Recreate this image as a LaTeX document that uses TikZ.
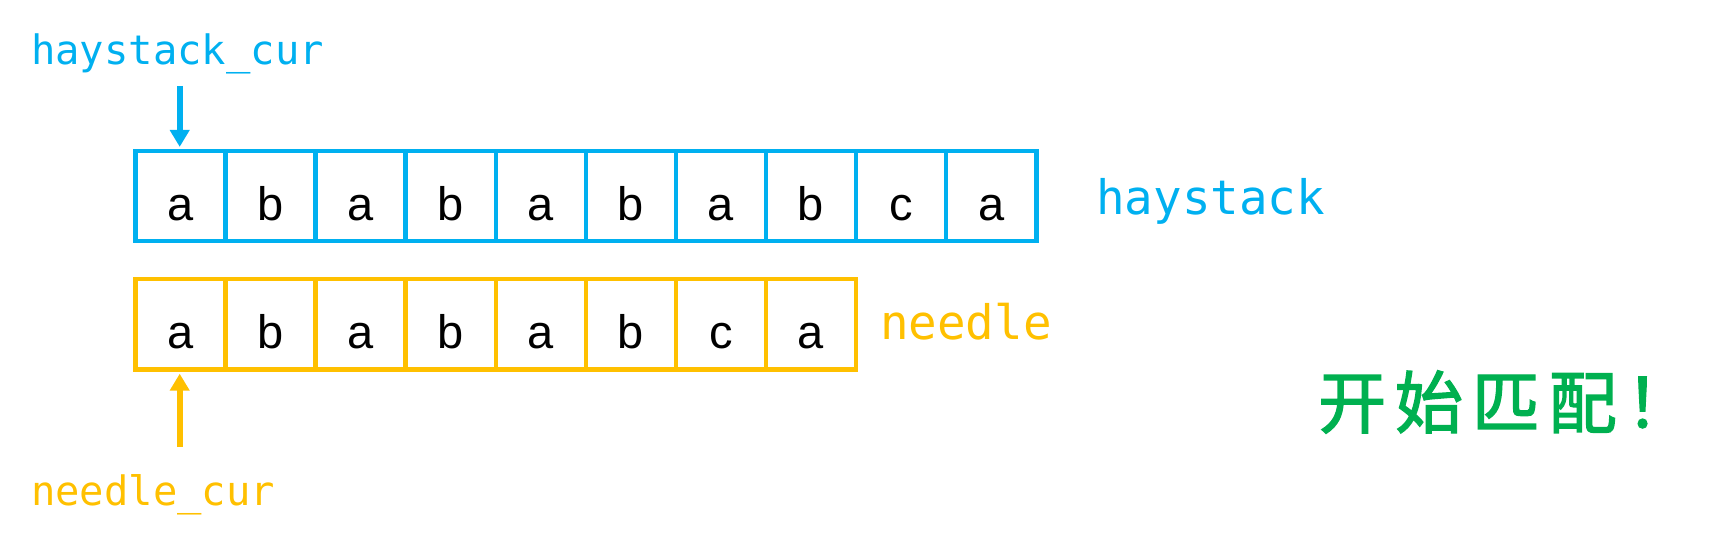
\documentclass[tikz,border=0pt]{standalone}
\usepackage{fontspec}
\setmainfont{Liberation Sans}
\newfontfamily\monof{DejaVu Sans Mono}
\newfontfamily\cjk[LetterSpace=13,FakeBold=2]{Noto Sans CJK SC}
\usetikzlibrary{arrows.meta}
\definecolor{hay}{HTML}{00B0F0}
\definecolor{ndl}{HTML}{FFC000}
\definecolor{grn}{HTML}{00B050}
\tikzset{
  cellbox/.style={draw=#1, line width=4.4pt, minimum width=90.1pt, minimum height=90pt,
    inner sep=0pt, text height=48pt, text depth=0pt,
    font=\fontsize{47pt}{47pt}\selectfont, text=black},
  curlbl/.style={anchor=base west, inner sep=0pt, text=#1, font=\monof\fontsize{40.5pt}{40.5pt}\selectfont},
  namelbl/.style={anchor=base west, inner sep=0pt, text=#1, font=\monof\fontsize{47.5pt}{47.5pt}\selectfont},
  ptr/.style={draw=#1, line width=6pt, -{Triangle[length=17pt,width=19pt]}, shorten >=2.2pt}
}
\begin{document}
\begin{tikzpicture}[x=1pt,y=-1pt]
\useasboundingbox (0,0) rectangle (1734,545);
% haystack cells
\foreach \c [count=\i from 0] in {a,b,a,b,a,b,a,b,c,a}
  \node[cellbox=hay] (h\i) at (180.35+90.1*\i,196.3) {\c};
% needle cells
\foreach \c [count=\i from 0] in {a,b,a,b,a,b,c,a}
  \node[cellbox=ndl] (n\i) at (180.35+90.1*\i,324.3) {\c};
% labels
\node[curlbl=hay] (hcur) at (31,65) {haystack\_cur};
\node[curlbl=ndl] (ncur) at (31,505) {needle\_cur};
\node[namelbl=hay] (hlbl) at (1096,215) {haystack};
\node[namelbl=ndl] (nlbl) at (880,339) {needle};
\node[anchor=west, text=grn, inner sep=0pt, font=\cjk\fontsize{68pt}{68pt}\selectfont] (start) at (1318,402) {开始匹配！};
% pointers
\coordinate (hs) at (179.7,86);
\coordinate (ns) at (179.7,447);
\draw[ptr=hay] (hs) -- (hs |- h0.north);
\draw[ptr=ndl] (ns) -- (ns |- n0.south);
\end{tikzpicture}
\end{document}
